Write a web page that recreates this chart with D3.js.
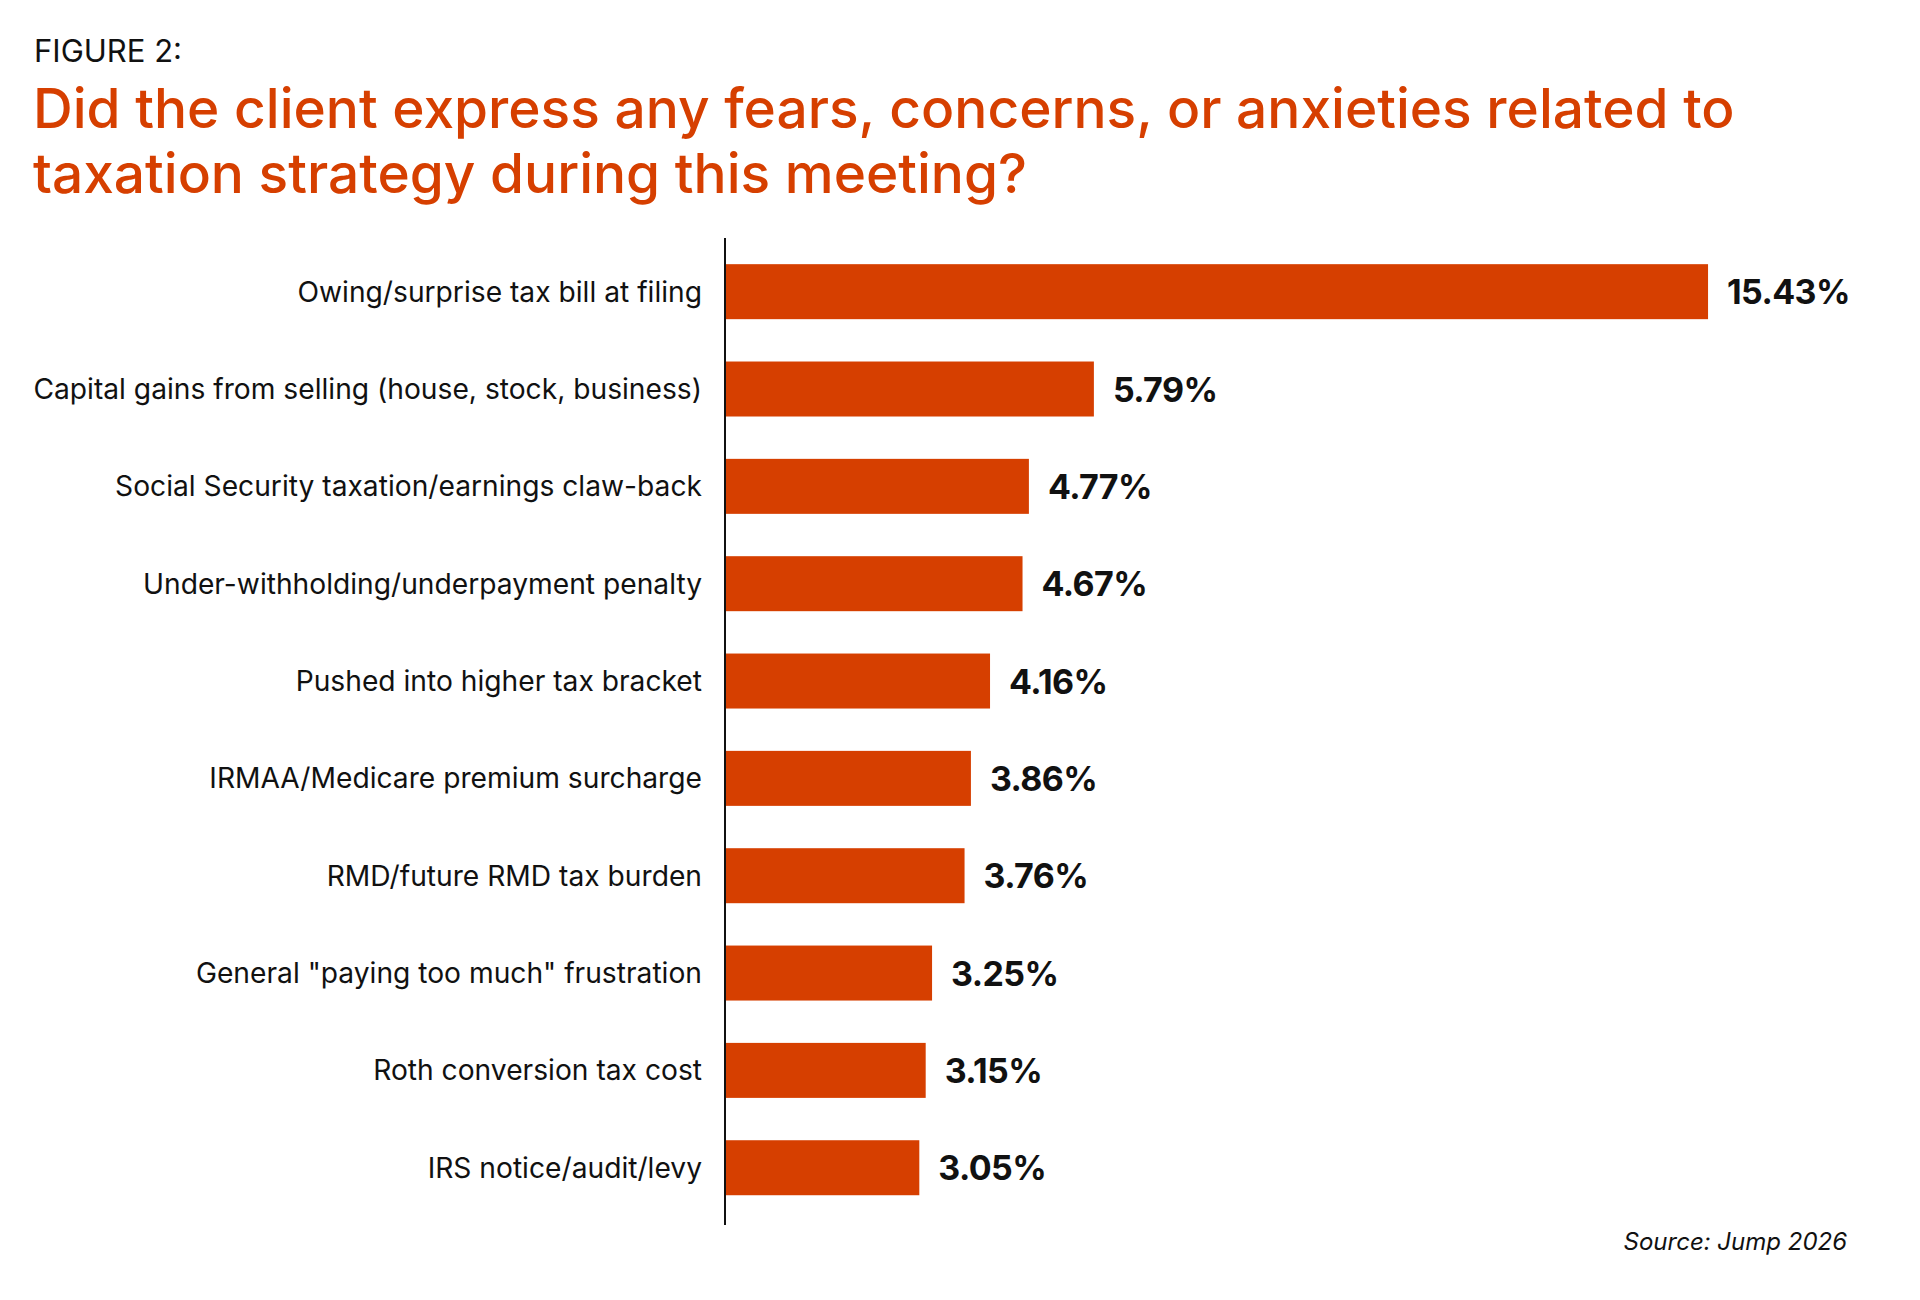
<!DOCTYPE html>
<html>
<head>
<meta charset="utf-8">
<script src="https://cdn.jsdelivr.net/npm/d3@7"></script>
<style>
  body { margin: 0; background: #fff; }
  svg { display: block; font-family: Inter, "Noto Sans", sans-serif; }
</style>
</head>
<body>
<div id="chart"></div>
<script>
var categories = [
  "Owing/surprise tax bill at filing",
  "Capital gains from selling (house, stock, business)",
  "Social Security taxation/earnings claw-back",
  "Under-withholding/underpayment penalty",
  "Pushed into higher tax bracket",
  "IRMAA/Medicare premium surcharge",
  "RMD/future RMD tax burden",
  "General \"paying too much\" frustration",
  "Roth conversion tax cost",
  "IRS notice/audit/levy"
];
var values = [15.43, 5.79, 4.77, 4.67, 4.16, 3.86, 3.76, 3.25, 3.15, 3.05];
var titleLines = [
  "Did the client express any fears, concerns, or anxieties related to",
  "taxation strategy during this meeting?"
];
var figureLabel = "FIGURE 2:";
var sourceText = "Source: Jump 2026";

var width = 1920, height = 1300;
var orange = "#d63f00";
var axisX = 725;

var svg = d3.select("#chart").append("svg")
  .attr("width", width)
  .attr("height", height);

svg.append("text")
  .attr("x", 34).attr("y", 62)
  .style("font-size", "31px")
  .style("fill", "#111")
  .text(figureLabel);

svg.selectAll(".title")
  .data(titleLines)
  .enter().append("text")
  .attr("class", "title")
  .attr("x", 33)
  .attr("y", function(d, i) { return 128 + i * 65; })
  .style("font-size", "55px")
  .style("font-weight", 500)
  .style("fill", orange)
  .text(function(d) { return d; });

var y = d3.scaleBand()
  .domain(categories)
  .range([243, 1216.4])
  .paddingInner(0.435)
  .paddingOuter(0.2175);

var x = d3.scaleLinear()
  .domain([0, 16])
  .range([axisX, axisX + 63.71 * 16]);

var data = categories.map(function(c, i) { return { name: c, value: values[i] }; });

svg.selectAll(".bar")
  .data(data)
  .enter().append("rect")
  .attr("class", "bar")
  .attr("x", x(0))
  .attr("y", function(d) { return y(d.name); })
  .attr("width", function(d) { return x(d.value) - x(0); })
  .attr("height", y.bandwidth())
  .style("fill", orange);

svg.selectAll(".cat")
  .data(data)
  .enter().append("text")
  .attr("class", "cat")
  .attr("x", axisX - 23)
  .attr("y", function(d) { return y(d.name) + y.bandwidth() / 2 + 10; })
  .attr("text-anchor", "end")
  .style("font-size", "28.2px")
  .style("fill", "#111")
  .text(function(d) { return d.name; });

svg.selectAll(".val")
  .data(data)
  .enter().append("text")
  .attr("class", "val")
  .attr("x", function(d) { return x(d.value) + 19; })
  .attr("y", function(d) { return y(d.name) + y.bandwidth() / 2 + 12.5; })
  .style("font-size", "34px")
  .style("font-weight", 700)
  .style("letter-spacing", "-0.6px")
  .style("fill", "#111")
  .text(function(d) { return d.value.toFixed(2) + "%"; });

svg.append("line")
  .attr("x1", axisX).attr("x2", axisX)
  .attr("y1", 238).attr("y2", 1225)
  .style("stroke", "#111")
  .style("stroke-width", 2);

svg.append("text")
  .attr("x", 1847).attr("y", 1250)
  .attr("text-anchor", "end")
  .style("font-size", "24px")
  .style("font-style", "italic")
  .style("fill", "#111")
  .text(sourceText);
</script>
</body>
</html>
